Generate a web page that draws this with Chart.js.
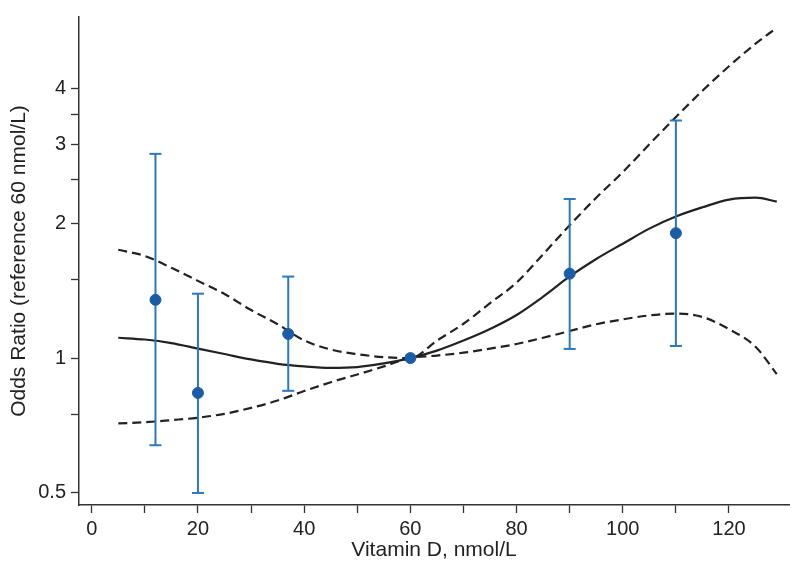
<!DOCTYPE html>
<html>
<head>
<meta charset="utf-8">
<script src="https://cdn.jsdelivr.net/npm/chart.js@4"></script>
<style>
  body { margin: 0; background: #fff; }
  #wrap { width: 797px; height: 568px; }
</style>
</head>
<body>
<div id="wrap"><canvas id="orChart" width="797" height="568"></canvas></div>
<script>
// spline curves (odds ratio vs vitamin D)
const curveX = [5, 10, 15, 20, 25, 30, 35, 40, 45, 50, 55, 60, 65, 70, 75, 80, 85, 90, 95, 100, 105, 110, 115, 120, 125, 129];
const estimate = [1.11, 1.10, 1.08, 1.05, 1.021, 0.993, 0.971, 0.958, 0.951, 0.955, 0.973, 1.0, 1.039, 1.094, 1.161, 1.248, 1.371, 1.521, 1.664, 1.80, 1.945, 2.07, 2.17, 2.258, 2.28, 2.235];
const upperCI = [1.745, 1.69, 1.59, 1.487, 1.39, 1.28, 1.19, 1.095, 1.045, 1.02, 1.005, 1.0, 1.094, 1.193, 1.326, 1.474, 1.705, 1.979, 2.28, 2.6, 3.0, 3.45, 3.95, 4.48, 5.03, 5.46];
const lowerCI = [0.715, 0.719, 0.727, 0.736, 0.751, 0.774, 0.804, 0.844, 0.883, 0.919, 0.958, 1.0, 1.013, 1.028, 1.05, 1.075, 1.11, 1.149, 1.19, 1.22, 1.245, 1.257, 1.235, 1.16, 1.06, 0.921];

// category estimates with 95% CI
const groupX = [12, 20, 37, 60, 90, 110];
const groupOR = [1.349, 0.836, 1.132, 1.0, 1.543, 1.90];
const groupLow = [0.639, 0.5, 0.845, null, 1.048, 1.064];
const groupHigh = [2.856, 1.392, 1.52, null, 2.265, 3.39];

const xMajor = [0, 20, 40, 60, 80, 100, 120];
const xMinor = [10, 30, 50, 70, 90, 110];
const yMajor = [0.5, 1, 2, 3, 4];
const yMinor = [0.75, 1.5, 2.5, 3.5];

const toXY = (xs, ys) => xs.map((x, i) => ({ x: x, y: ys[i] }));

// each CI as a two-point segment, null breaks between them
const errorBars = [];
groupX.forEach((x, i) => {
  if (groupLow[i] == null) return;
  errorBars.push({ x: x, y: groupLow[i] }, { x: x, y: groupHigh[i] }, { x: x, y: null });
});

const font = { family: "'Liberation Sans', Arial, sans-serif", size: 20 };
const ink = '#222';

const ctx = document.getElementById('orChart').getContext('2d');
const orChart = new Chart(ctx, {
  type: 'line',
  data: {
    datasets: [
      {
        label: 'Category OR',
        data: toXY(groupX, groupOR),
        showLine: false,
        pointRadius: 5.5,
        pointBackgroundColor: '#1a5ca6',
        pointBorderColor: '#1a5ca6',
        order: 0
      },
      {
        label: '95% CI',
        data: errorBars,
        borderColor: '#2c78c0',
        borderWidth: 2,
        spanGaps: false,
        pointStyle: 'line',
        pointRadius: 6,
        pointBorderWidth: 2,
        pointBorderColor: '#2c78c0',
        order: 1
      },
      {
        label: 'Spline',
        data: toXY(curveX, estimate),
        borderColor: ink,
        borderWidth: 2.2,
        pointRadius: 0,
        cubicInterpolationMode: 'monotone',
        order: 2
      },
      {
        label: 'Upper',
        data: toXY(curveX, upperCI),
        borderColor: ink,
        borderWidth: 2.2,
        borderDash: [9, 5],
        pointRadius: 0,
        cubicInterpolationMode: 'monotone',
        order: 3
      },
      {
        label: 'Lower',
        data: toXY(curveX, lowerCI),
        borderColor: ink,
        borderWidth: 2.2,
        borderDash: [9, 5],
        pointRadius: 0,
        cubicInterpolationMode: 'monotone',
        order: 3
      }
    ]
  },
  options: {
    responsive: false,
    animation: false,
    layout: { padding: { top: 8, right: 8, left: 0, bottom: 0 } },
    plugins: { legend: { display: false }, tooltip: { enabled: false } },
    scales: {
      x: {
        type: 'linear',
        min: -2.4,
        max: 131.3,
        afterBuildTicks: (scale) => {
          scale.ticks = xMajor.concat(xMinor).sort((a, b) => a - b).map(v => ({ value: v }));
        },
        afterFit: (scale) => { scale.height = 63; },
        ticks: {
          autoSkip: false,
          maxRotation: 0,
          padding: 4,
          color: ink,
          font: font,
          callback: (v) => xMajor.includes(v) ? String(v) : ''
        },
        grid: { drawOnChartArea: false, drawTicks: true, tickLength: 8, tickColor: '#333', tickWidth: 1.3 },
        border: { display: true, color: '#333', width: 1.5 },
        title: {
          display: true,
          text: 'Vitamin D, nmol/L',
          color: ink,
          font: { family: font.family, size: 21 },
          padding: { top: 0, bottom: 5 }
        }
      },
      y: {
        type: 'logarithmic',
        min: 0.47,
        max: 5.77,
        afterBuildTicks: (scale) => {
          scale.ticks = yMajor.concat(yMinor).sort((a, b) => a - b).map(v => ({ value: v }));
        },
        afterFit: (scale) => { scale.width = 79; },
        ticks: {
          autoSkip: false,
          padding: 5,
          color: ink,
          font: font,
          callback: (v) => yMajor.includes(v) ? String(v) : ''
        },
        grid: { drawOnChartArea: false, drawTicks: true, tickLength: 8, tickColor: '#333', tickWidth: 1.3 },
        border: { display: true, color: '#333', width: 1.5 },
        title: {
          display: true,
          text: 'Odds Ratio (reference 60 nmol/L)',
          color: ink,
          font: { family: font.family, size: 21 },
          padding: { top: 7, bottom: 0 }
        }
      }
    }
  }
});
</script>
</body>
</html>
